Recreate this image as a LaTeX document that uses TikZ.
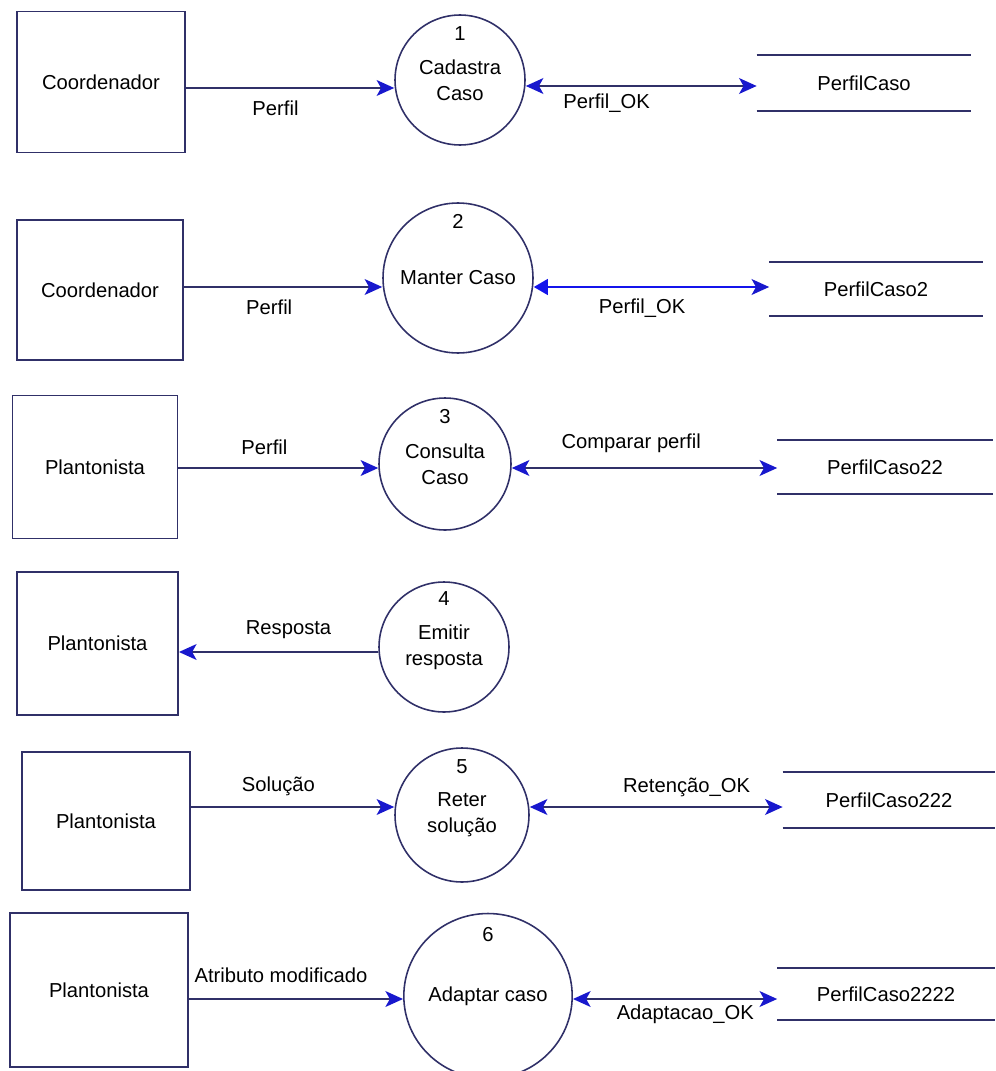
\documentclass[tikz,border=0pt]{standalone}
\usepackage{fontspec}
\setmainfont{Liberation Sans}
\usepackage{tikz}
\usetikzlibrary{positioning,arrows.meta,shapes.geometric}
\definecolor{borda}{RGB}{48,48,104}
\definecolor{seta}{RGB}{24,24,205}
\definecolor{azul}{RGB}{20,20,235}
\tikzset{Pena/.tip={Stealth[length=10pt,width=9pt,inset=2.5pt,color=seta]}}
\tikzset{Cheia/.tip={Triangle[length=8pt,width=9pt,color=azul]}}
\tikzset{entidade/.style={draw=borda, line width=1.1pt, inner sep=0pt}}
\tikzset{processo/.style={draw=borda, circle, line width=0.9pt, inner sep=0pt, align=center}}
\tikzset{deposito/.style={inner sep=0pt, minimum width=4.28cm, minimum height=1.1cm}}
\tikzset{linha/.style={draw=borda, line width=1.1pt}}
\tikzset{fluxo/.style={linha, -Pena}}
\tikzset{duplo/.style={linha, Pena-Pena}}
\tikzset{rotulo/.style={inner sep=2pt}}

\begin{document}
\begin{tikzpicture}[x=0.02cm, y=-0.02cm, every node/.style={font=\fontsize{11.5}{14.7}\selectfont}]
        \useasboundingbox (0,0) rectangle (995,1071);

        % linha 1
        \node[entidade, minimum width=3.36cm, minimum height=2.82cm] (e1) at (101,82) {Coordenador};
        \node[processo, minimum size=2.6cm] (p1) at (460,80) {Cadastra\\Caso};
        \node (n1) at ([yshift=-0.38cm]p1.north) {1};
        \node[deposito] (d1) at (864,83) {PerfilCaso};
        \coordinate (y1) at (0,88);
        \coordinate (z1) at (0,86);

        % linha 2
        \node[entidade, minimum width=3.32cm, minimum height=2.8cm] (e2) at (100,290) {Coordenador};
        \node[processo, minimum size=3cm] (p2) at (458,278) {Manter Caso};
        \node (n2) at ([yshift=-0.38cm]p2.north) {2};
        \node[deposito, minimum width=4.26cm, minimum height=1.08cm] (d2) at (876,289) {PerfilCaso2};
        \coordinate (y2) at (0,287);

        % linha 3
        \node[entidade, minimum width=3.3cm, minimum height=2.86cm] (e3) at (95,467) {Plantonista};
        \node[processo, minimum size=2.64cm] (p3) at (445,464) {Consulta\\Caso};
        \node (n3) at ([yshift=-0.38cm]p3.north) {3};
        \node[deposito, minimum width=4.3cm, minimum height=1.08cm] (d3) at (885,467) {PerfilCaso22};
        \coordinate (y3) at (0,468);

        % linha 4
        \node[entidade, minimum width=3.22cm, minimum height=2.86cm] (e4) at (97.5,643.5) {Plantonista};
        \node[processo, minimum size=2.6cm] (p4) at (444,647) {Emitir\\resposta};
        \node (n4) at ([yshift=-0.34cm]p4.north) {4};
        \coordinate (y4) at (0,652);

        % linha 5
        \node[entidade, minimum width=3.36cm, minimum height=2.76cm] (e5) at (106,821) {Plantonista};
        \node[processo, minimum size=2.68cm] (p5) at (462,815) {Reter\\solução};
        \node (n5) at ([yshift=-0.38cm]p5.north) {5};
        \node[deposito, minimum width=4.24cm] (d5) at (889,800) {PerfilCaso222};
        \coordinate (y5) at (0,807);

        % linha 6
        \node[entidade, minimum width=3.56cm, minimum height=3.08cm] (e6) at (99,990) {Plantonista};
        \node[processo, ellipse, minimum width=3cm, minimum height=3.3cm] (p6) at (488,996) {Adaptar caso};
        \node (n6) at ([yshift=-0.44cm]p6.north) {6};
        \node[deposito, minimum width=4.34cm, minimum height=1.04cm] (d6) at (886,994) {PerfilCaso2222};
        \coordinate (y6) at (0,999);

        \foreach \d in {d1,d2,d3,d5,d6}
            \draw[linha] (\d.north west) -- (\d.north east) (\d.south west) -- (\d.south east);

        \draw[fluxo] (e1.east |- y1) -- node[rotulo, below=5pt, pos=0.43] (f1) {Perfil} (p1.west |- y1);
        \draw[duplo] (p1.east |- z1) -- node[rotulo, below=2pt, pos=0.35] (g1) {Perfil\_OK} (d1.west |- z1);

        \draw[fluxo] (e2.east |- y2) -- node[rotulo, below=5pt, pos=0.43] (f2) {Perfil} (p2.west |- y2);
        \draw[linha, draw=azul, Cheia-Pena] (p2.east |- y2) -- node[rotulo, below=4pt, pos=0.46] (g2) {Perfil\_OK} (d2.west |- y2);

        \draw[fluxo] (e3.east |- y3) -- node[rotulo, above=5pt, pos=0.43] (f3) {Perfil} (p3.west |- y3);
        \draw[duplo] (p3.east |- y3) -- node[rotulo, above=6pt, pos=0.45] (g3) {Comparar perfil} (d3.west |- y3);

        \draw[fluxo] (p4.west |- y4) -- node[rotulo, above=5pt, pos=0.45] (f4) {Resposta} (e4.east |- y4);

        \draw[fluxo] (e5.east |- y5) -- node[rotulo, above=4pt, pos=0.43] (f5) {Solução} (p5.west |- y5);
        \draw[duplo] (p5.east |- y5) -- node[rotulo, above=3pt, pos=0.62] (g5) {Retenção\_OK} (d5.west |- y5);

        \draw[fluxo] (e6.east |- y6) -- node[rotulo, above=7pt, pos=0.43] (f6) {Atributo modificado} (p6.west |- y6);
        \draw[duplo] (p6.east |- y6) -- node[rotulo, below=1pt, pos=0.55] (g6) {Adaptacao\_OK} (d6.west |- y6);
\end{tikzpicture}
\end{document}
